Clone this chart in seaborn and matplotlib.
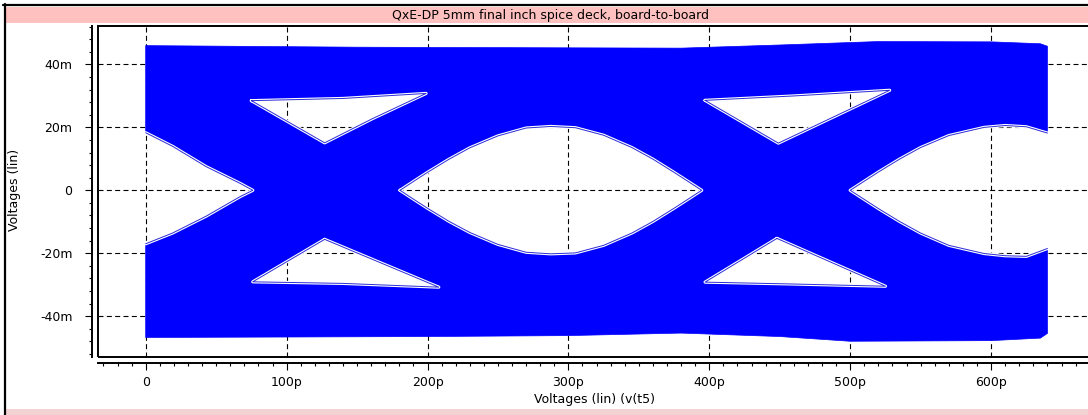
import numpy as np
import matplotlib
matplotlib.use("Agg")
import matplotlib.pyplot as plt
import matplotlib.patheffects as pe
import seaborn as sns
from matplotlib.path import Path
from matplotlib.patches import PathPatch, Rectangle
from matplotlib.lines import Line2D
from matplotlib.ticker import MultipleLocator

# ---------------- data (x in ps, y in mV) ----------------
title = "QxE-DP 5mm final inch spice deck, board-to-board"
x_label = "Voltages (lin) (v(t5)"
y_label = "Voltages (lin)"
x_ticks = [0, 100, 200, 300, 400, 500, 600]
x_tick_labels = ["0", "100p", "200p", "300p", "400p", "500p", "600p"]
y_ticks = [-40, -20, 0, 20, 40]
y_tick_labels = ["-40m", "-20m", "0", "20m", "40m"]

# outer envelope of the eye traces
top_x = [0, 150, 300, 380, 450, 520, 600, 635, 640]
top_y = [46.0, 45.5, 45.3, 45.2, 46.2, 47.3, 47.2, 46.6, 45.8]
bot_x = [0, 200, 300, 380, 450, 500, 600, 635, 640]
bot_y = [-46.8, -46.5, -46.2, -45.4, -46.5, -48.0, -47.8, -47.0, -45.5]

# left half eye (open to the left)
le_x = [0, 19, 43, 67, 76]
le_top = [18.3, 14.0, 7.5, 2.2, 0.0]
le_bot = [-17.0, -13.6, -8.2, -2.0, 0.0]

# right half eye (open to the right)
re_x = [500, 510, 520, 535, 550, 570, 595, 610, 625, 640]
re_top = [0.0, 2.9, 5.8, 9.9, 13.6, 17.4, 20.0, 20.6, 20.2, 18.2]
re_bot = [0.0, -2.9, -5.8, -9.9, -13.6, -17.5, -20.1, -20.8, -21.0, -18.5]

# central eye opening
ce_x = [180.5, 190, 200, 215, 230, 250, 270, 287.5, 305, 325, 345, 360, 375, 385, 394.6]
ce_top = [0.0, 2.8, 5.7, 9.8, 13.5, 17.3, 19.8, 20.3, 19.9, 17.5, 13.6, 9.9, 5.7, 2.8, 0.0]
ce_bot = [0.0, -2.8, -5.7, -9.8, -13.4, -17.2, -19.7, -20.2, -19.9, -17.5, -13.6, -9.9, -5.7, -2.8, 0.0]

# upper / lower triangular openings
ut1_x = [75, 140, 199, 161, 127]
ut1_y = [28.5, 29.2, 30.8, 22.8, 15.1]
lt1_x = [127, 208, 140, 76]
lt1_y = [-15.6, -30.8, -29.6, -29.1]
ut2_x = [397, 460, 528, 449]
ut2_y = [28.6, 30.0, 31.8, 15.0]
lt2_x = [448, 525, 460, 397]
lt2_y = [-15.3, -30.5, -29.8, -29.2]

# ---------------- figure ----------------
W, H = 1088, 415
sns.set_theme(style="white")
plt.rcParams["font.family"] = ["DejaVu Sans"]
plt.rcParams["font.size"] = 9

fig = plt.figure(figsize=(W / 100, H / 100), dpi=100)
fig.patch.set_facecolor("white")


def fx(x):
    return x / W


def fy(y):
    return 1 - y / H


# window decoration
fig.add_artist(Rectangle((fx(5), fy(23.5)), fx(1090) - fx(5), fy(7) - fy(23.5),
                         transform=fig.transFigure, facecolor="#ffc0c0", edgecolor="none"))
fig.add_artist(Line2D([fx(3), fx(1090)], [fy(5), fy(5)], transform=fig.transFigure,
                      color="black", lw=1.6))
fig.add_artist(Line2D([fx(4.5), fx(4.5)], [fy(4), fy(420)], transform=fig.transFigure,
                      color="black", lw=1.6))
fig.add_artist(Rectangle((fx(5), fy(415)), fx(1090) - fx(5), fy(408.5) - fy(415),
                         transform=fig.transFigure, facecolor="#f2d2d2", edgecolor="none"))
fig.text(fx(550), fy(15.5), title, ha="center", va="center", fontsize=9, color="black")

# axes
L, R, T, B = 98, 1090, 26, 357
ax = fig.add_axes([fx(L), fy(B), fx(R) - fx(L), fy(T) - fy(B)])
ax.set_facecolor("white")
x0, xs = 145.7, 1.409
y0, ys = 190.3, 3.145
ax.set_xlim((L - x0) / xs, (R - x0) / xs)
ax.set_ylim((y0 - B) / ys, (y0 - T) / ys)


def ring(xs_, ys_, ccw=True):
    v = np.column_stack([xs_, ys_]).astype(float)
    a = 0.5 * np.sum(v[:, 0] * np.roll(v[:, 1], -1) - np.roll(v[:, 0], -1) * v[:, 1])
    if (a > 0) != ccw:
        v = v[::-1]
    return v


# outer boundary
ox, oy = [], []
ox += [0]; oy += [le_top[0]]
ox += top_x; oy += top_y
ox += re_x[::-1]; oy += re_top[::-1]
ox += re_x[1:]; oy += re_bot[1:]
ox += bot_x[::-1]; oy += bot_y[::-1]
ox += le_x; oy += le_bot
ox += le_x[::-1][1:]; oy += le_top[::-1][1:]

rings = [ring(ox, oy, True)]
holes = [
    (ce_x + ce_x[::-1][1:-1], ce_top + ce_bot[::-1][1:-1]),
    (ut1_x, ut1_y), (lt1_x, lt1_y), (ut2_x, ut2_y), (lt2_x, lt2_y),
]
for hx, hy in holes:
    rings.append(ring(hx, hy, False))

verts, codes = [], []
for r in rings:
    verts += list(r) + [r[0]]
    codes += [Path.MOVETO] + [Path.LINETO] * (len(r) - 1) + [Path.CLOSEPOLY]
ax.add_patch(PathPatch(Path(np.array(verts), codes), facecolor="#0000ff",
                       edgecolor="#0000ff", lw=0.5, zorder=1))

# trace edges around the openings (edge trace + thin white gap)
edge_col = "#2a2ad8"
fx_edge = [pe.Stroke(linewidth=2.3, foreground="white"), pe.Normal()]
for hx, hy in holes:
    sns.lineplot(x=list(hx) + [hx[0]], y=list(hy) + [hy[0]], sort=False, estimator=None,
                 color=edge_col, lw=0.7, ax=ax, zorder=2, legend=False,
                 path_effects=fx_edge)
sns.lineplot(x=le_x + le_x[::-1][1:], y=le_top + le_bot[::-1][1:], sort=False, estimator=None,
             color=edge_col, lw=0.7, ax=ax, zorder=2, legend=False, path_effects=fx_edge)
sns.lineplot(x=re_x[::-1] + re_x[1:], y=re_top[::-1] + re_bot[1:], sort=False, estimator=None,
             color=edge_col, lw=0.7, ax=ax, zorder=2, legend=False, path_effects=fx_edge)

# grid
ax.set_axisbelow(True)
ax.grid(True, which="major", color="black", linestyle=(0, (4.5, 3)), lw=0.8)

# ticks
ax.set_xticks(x_ticks, x_tick_labels)
ax.set_yticks(y_ticks, y_tick_labels)
ax.xaxis.set_minor_locator(MultipleLocator(10))
ax.yaxis.set_minor_locator(MultipleLocator(4))
ax.tick_params(which="major", direction="out", length=5, width=0.8, colors="black",
               labelsize=9, bottom=True, left=True)
ax.tick_params(which="minor", direction="out", length=2.3, width=0.8, colors="black",
               bottom=True, left=True)
ax.tick_params(axis="y", which="major", pad=9)
ax.tick_params(axis="x", which="major", pad=4.5)
ax.set_xlabel("")
ax.set_ylabel("")

for s in ["top", "right"]:
    ax.spines[s].set_visible(False)
for s in ["left", "bottom"]:
    ax.spines[s].set_position(("outward", 4.3))
    ax.spines[s].set_color("black")
    ax.spines[s].set_linewidth(1.4)
ax.add_patch(Rectangle((0, 0), 1, 1, transform=ax.transAxes, fill=False,
                       edgecolor="black", lw=1.4, clip_on=False, zorder=5))

fig.text(fx(595), fy(399), x_label, ha="center", va="center", fontsize=9, color="black")
fig.text(fx(15), fy(190), y_label, ha="center", va="center", rotation=90,
         fontsize=9, color="black")

fig.savefig("out.png", dpi=100)
